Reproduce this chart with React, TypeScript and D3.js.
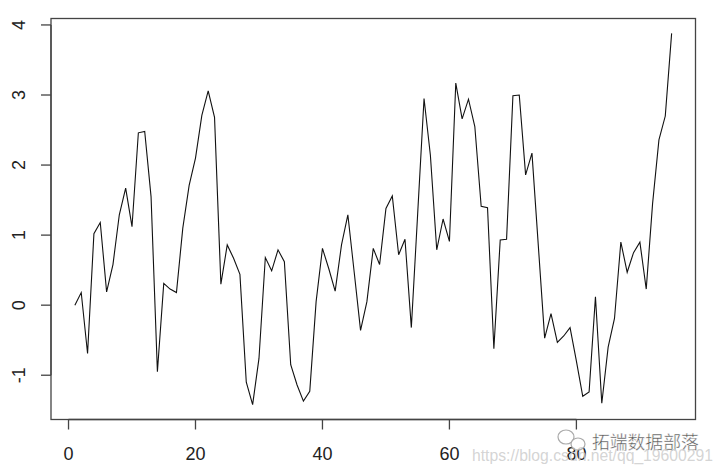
import { useEffect, useRef } from "react";
import * as d3 from "d3";

// series values (index 1..95)
const values: number[] = [
  0.0, 0.18, -0.69, 1.02, 1.18, 0.19, 0.58, 1.29, 1.67, 1.12,
  2.46, 2.48, 1.55, -0.95, 0.31, 0.23, 0.18, 1.1, 1.71, 2.1,
  2.71, 3.06, 2.68, 0.3, 0.86, 0.67, 0.44, -1.1, -1.42, -0.76,
  0.68, 0.49, 0.79, 0.62, -0.85, -1.14, -1.37, -1.23, 0.05, 0.81,
  0.52, 0.2, 0.86, 1.29, 0.47, -0.36, 0.05, 0.81, 0.58, 1.38,
  1.56, 0.72, 0.94, -0.32, 1.31, 2.95, 2.14, 0.79, 1.23, 0.91,
  3.17, 2.66, 2.94, 2.55, 1.41, 1.39, -0.62, 0.93, 0.94, 2.99,
  3.0, 1.86, 2.17, 0.85, -0.47, -0.12, -0.53, -0.44, -0.32, -0.8,
  -1.3, -1.24, 0.12, -1.4, -0.6, -0.19, 0.9, 0.47, 0.75, 0.9,
  0.23, 1.45, 2.36, 2.7, 3.88,
];
const xTicks: number[] = [0, 20, 40, 60, 80];
const yTicks: number[] = [-1, 0, 1, 2, 3, 4];

const watermarkName = "拓端数据部落";
const watermarkUrl = "https://blog.csdn.net/qq_19600291";

export default function App() {
  const svgRef = useRef<SVGSVGElement>(null);

  useEffect(() => {
    if (!svgRef.current) return;
    const svg = d3.select(svgRef.current);
    svg.selectAll("*").remove();

    const W = 722, H = 475;
    const left = 51, right = 695.5, top = 18.5, bottom = 419.5;
    const n = values.length;

    // R style 4% range extension
    const xPad = 0.04 * (n - 1);
    const x = d3.scaleLinear().domain([1 - xPad, n + xPad]).range([left, right]);
    const yMin = d3.min(values)!, yMax = d3.max(values)!;
    const yPad = 0.04 * (yMax - yMin);
    const y = d3.scaleLinear().domain([yMin - yPad, yMax + yPad]).range([bottom, top]);

    svg.append("rect").attr("width", W).attr("height", H).attr("fill", "#fff");

    const font = "'Liberation Sans', Arial, sans-serif";
    const axisColor = "#444";

    // the series
    svg.append("path")
      .datum(values)
      .attr("fill", "none")
      .attr("stroke", "#111")
      .attr("stroke-width", 1.1)
      .attr("d", d3.line<number>().x((d, i) => x(i + 1)).y((d) => y(d)));

    // box
    svg.append("rect")
      .attr("x", left).attr("y", top)
      .attr("width", right - left).attr("height", bottom - top)
      .attr("fill", "none").attr("stroke", axisColor).attr("stroke-width", 1.3);

    // x axis
    const gx = svg.append("g");
    gx.append("line")
      .attr("x1", x(xTicks[0])).attr("x2", x(xTicks[xTicks.length - 1]))
      .attr("y1", bottom).attr("y2", bottom)
      .attr("stroke", axisColor).attr("stroke-width", 1.3);
    gx.selectAll("line.tick").data(xTicks).join("line")
      .attr("class", "tick")
      .attr("x1", (d) => x(d)).attr("x2", (d) => x(d))
      .attr("y1", bottom).attr("y2", bottom + 10)
      .attr("stroke", axisColor).attr("stroke-width", 1.3);
    gx.selectAll("text").data(xTicks).join("text")
      .attr("x", (d) => x(d)).attr("y", 460)
      .attr("text-anchor", "middle")
      .attr("font-family", font).attr("font-size", 18).attr("fill", "#222")
      .text((d) => d);

    // y axis
    const gy = svg.append("g");
    gy.append("line")
      .attr("x1", left).attr("x2", left)
      .attr("y1", y(yTicks[0])).attr("y2", y(yTicks[yTicks.length - 1]))
      .attr("stroke", axisColor).attr("stroke-width", 1.3);
    gy.selectAll("line.tick").data(yTicks).join("line")
      .attr("class", "tick")
      .attr("x1", left - 10).attr("x2", left)
      .attr("y1", (d) => y(d)).attr("y2", (d) => y(d))
      .attr("stroke", axisColor).attr("stroke-width", 1.3);
    gy.selectAll("text").data(yTicks).join("text")
      .attr("transform", (d) => `translate(25,${y(d)}) rotate(-90)`)
      .attr("text-anchor", "middle")
      .attr("font-family", font).attr("font-size", 18).attr("fill", "#222")
      .text((d) => d);

    // watermark
    const wm = svg.append("g");
    wm.append("ellipse").attr("cx", 566).attr("cy", 437).attr("rx", 8).attr("ry", 7)
      .attr("fill", "none").attr("stroke", "#aaa").attr("stroke-width", 1.2);
    wm.append("ellipse").attr("cx", 578).attr("cy", 444).attr("rx", 7).attr("ry", 6)
      .attr("fill", "#fff").attr("fill-opacity", 0.8)
      .attr("stroke", "#aaa").attr("stroke-width", 1.2);
    wm.append("text")
      .attr("x", 592).attr("y", 449)
      .attr("font-family", "'Noto Sans CJK SC', sans-serif")
      .attr("font-size", 17.8).attr("fill", "#555")
      .attr("stroke", "#fff").attr("stroke-width", 0.4)
      .text(watermarkName);
    wm.append("text")
      .attr("x", 472).attr("y", 461)
      .attr("font-family", font).attr("font-size", 17)
      .attr("textLength", 241).attr("lengthAdjust", "spacingAndGlyphs")
      .attr("fill", "#cfcfcf").attr("fill-opacity", 0.9)
      .text(watermarkUrl);
  }, []);

  return (
    <div style={{ position: "fixed", left: 0, top: 0 }}>
      <svg ref={svgRef} width={722} height={475} style={{ display: "block" }} />
    </div>
  );
}
